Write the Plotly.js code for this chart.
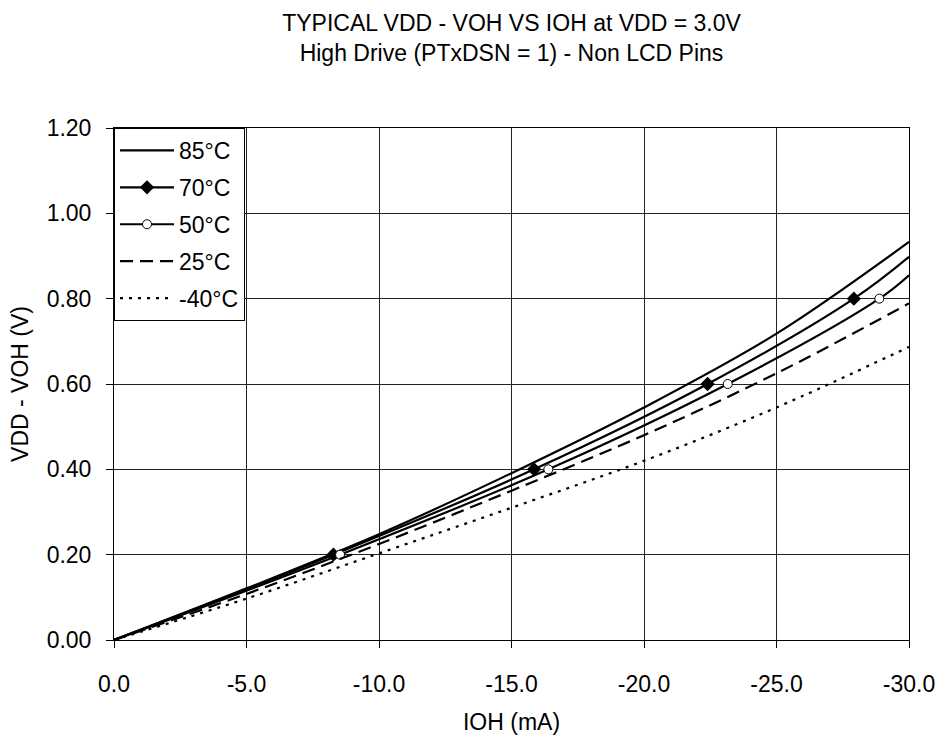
<!DOCTYPE html>
<html>
<head>
<meta charset="utf-8">
<script src="https://cdn.plot.ly/plotly-3.0.1.min.js"></script>
<style>html,body{margin:0;padding:0;background:#fff}#chart{width:941px;height:744px}</style>
</head>
<body>
<div id="chart"></div>
<script>
// IOH (mA) sample points and VDD - VOH (V) readings per temperature
const ioh_grid = [0, -5, -10, -15, -20, -25, -30];
const v_85 = [0, 0.121, 0.248, 0.391, 0.545, 0.718, 0.933];
const v_25 = [0, 0.108, 0.225, 0.350, 0.480, 0.625, 0.789];
const v_m40 = [0, 0.097, 0.203, 0.310, 0.420, 0.545, 0.687];
// 70°C and 50°C: points at VDD-VOH = 0, 0.2, 0.4, 0.6, 0.8 and at IOH = -30 mA
const ioh_70 = [0, -8.28, -15.85, -22.4, -27.92, -30];
const v_70 = [0, 0.2, 0.4, 0.6, 0.8, 0.898];
const ioh_50 = [0, -8.53, -16.39, -23.16, -28.88, -30];
const v_50 = [0, 0.2, 0.4, 0.6, 0.8, 0.855];
const seriesNames = ['85°C', '70°C', '50°C', '25°C', '-40°C'];
const xTicks = [0, -5, -10, -15, -20, -25, -30];
const yTicks = [0, 0.2, 0.4, 0.6, 0.8, 1.0, 1.2];

const FONT = 'Liberation Sans, Arial, sans-serif';
const FS = 23;
function isMarkerPoint(v) { return v > 0 && Math.abs(v * 5 - Math.round(v * 5)) < 1e-9; }
function pick(xs, ys) {
  const ox = [], oy = [];
  ys.forEach((v, i) => { if (isMarkerPoint(v)) { ox.push(xs[i]); oy.push(v); } });
  return {x: ox, y: oy};
}
const m70 = pick(ioh_70, v_70);
const m50 = pick(ioh_50, v_50);

const lw = 2.2;
const diamond = {symbol: 'diamond', size: 11, color: '#000'};
const circle = {symbol: 'circle', size: 9, color: '#fff', line: {color: '#000', width: 1}};
const traces = [
  {x: ioh_grid, y: v_85, name: seriesNames[0], mode: 'lines', legendgroup: 'a',
   line: {color: '#000', width: lw, shape: 'spline'}},
  {x: ioh_70, y: v_70, name: seriesNames[1], mode: 'lines', showlegend: false,
   line: {color: '#000', width: lw, shape: 'spline'}},
  {x: m70.x, y: m70.y, name: seriesNames[1], mode: 'markers', showlegend: false, marker: diamond},
  {x: [null], y: [null], name: seriesNames[1], mode: 'lines+markers', legendgroup: 'b',
   line: {color: '#000', width: lw}, marker: diamond},
  {x: ioh_50, y: v_50, name: seriesNames[2], mode: 'lines', showlegend: false,
   line: {color: '#000', width: lw, shape: 'spline'}},
  {x: m50.x, y: m50.y, name: seriesNames[2], mode: 'markers', showlegend: false, marker: circle},
  {x: [null], y: [null], name: seriesNames[2], mode: 'lines+markers', legendgroup: 'c',
   line: {color: '#000', width: lw}, marker: circle},
  {x: ioh_grid, y: v_25, name: seriesNames[3], mode: 'lines', legendgroup: 'd',
   line: {color: '#000', width: lw, dash: '13px,7px', shape: 'spline'}},
  {x: ioh_grid, y: v_m40, name: seriesNames[4], mode: 'lines', legendgroup: 'e',
   line: {color: '#000', width: lw, dash: '3px,6px', shape: 'spline'}}
];

const layout = {
  width: 941, height: 744,
  margin: {l: 114, r: 32, t: 128, b: 104},
  paper_bgcolor: '#fff', plot_bgcolor: '#fff',
  font: {family: FONT, size: FS, color: '#000'},
  title: {text: 'TYPICAL VDD - VOH VS IOH at VDD = 3.0V<br>High Drive (PTxDSN = 1) - Non LCD Pins',
          x: 0.5, xref: 'paper', xanchor: 'center', y: 1 - 31 / 744, yref: 'container', yanchor: 'middle',
          font: {family: FONT, size: FS, color: '#000'}},
  xaxis: {range: [0, -30], tickvals: xTicks, ticktext: xTicks.map(v => (v === 0 ? 0 : v).toFixed(1)),
          showgrid: true, gridcolor: '#222', gridwidth: 1, zeroline: false,
          showline: true, linecolor: '#000', linewidth: 1, mirror: true,
          ticks: 'outside', ticklen: 7, tickcolor: '#000', ticklabelstandoff: 16,
          title: {text: 'IOH (mA)', standoff: 18, font: {family: FONT, size: FS}}},
  yaxis: {range: [0, 1.2], tickvals: yTicks, tickformat: '.2f',
          showgrid: true, gridcolor: '#222', gridwidth: 1, zeroline: false,
          showline: true, linecolor: '#000', linewidth: 1, mirror: true,
          ticks: 'outside', ticklen: 7, tickcolor: '#000', ticklabelstandoff: 10,
          title: {text: 'VDD - VOH (V)', standoff: 11, font: {family: FONT, size: FS}}},
  showlegend: true,
  legend: {x: 0, y: 1, xref: 'paper', yref: 'paper', xanchor: 'left', yanchor: 'top',
           bgcolor: '#fff', bordercolor: '#000', borderwidth: 1,
           font: {family: FONT, size: FS, color: '#000'},
           tracegroupgap: 4, itemwidth: 54, traceorder: 'grouped'}
};

Plotly.newPlot('chart', traces, layout, {displayModeBar: false, staticPlot: true});
</script>
</body>
</html>
